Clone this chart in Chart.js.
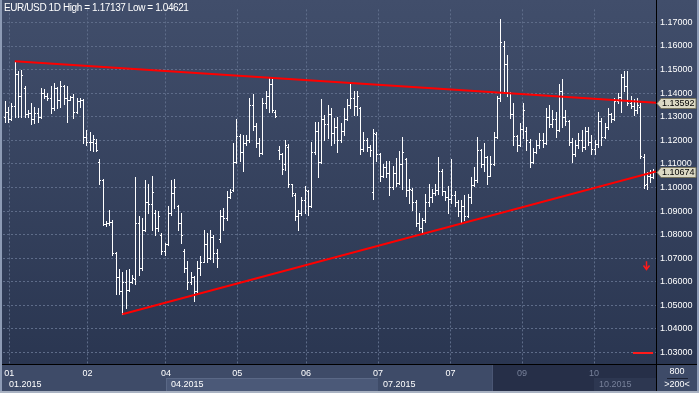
<!DOCTYPE html>
<html>
<head>
<meta charset="utf-8">
<title>EUR/USD 1D</title>
<script src="https://cdn.jsdelivr.net/npm/chart.js@4.4.0/dist/chart.umd.min.js"></script>
<style>
  html, body { margin: 0; padding: 0; background: #2f3a55; }
  #wrap { width: 699px; height: 393px; }
</style>
</head>
<body>
<div id="wrap"><canvas id="fxChart" width="699" height="393"></canvas></div>
<script>
// Daily EUR/USD bars, late Jan to late Oct 2015
const opens = [
  1.1300, 1.1320, 1.1290, 1.1345, 1.1480, 1.1390, 1.1420, 1.1310, 1.1315, 1.1290,
  1.1315, 1.1300, 1.1400, 1.1390, 1.1380, 1.1335, 1.1420, 1.1370, 1.1430, 1.1380,
  1.1372, 1.1382, 1.1320, 1.1365, 1.1372, 1.1215, 1.1195, 1.1195, 1.1190, 1.1110,
  1.1030, 1.0845, 1.0850, 1.0855, 1.0720, 1.0620, 1.0560, 1.0600, 1.0565, 1.0600,
  1.0610, 1.0850, 1.0660, 1.0820, 1.0940, 1.0930, 1.0890, 1.0830, 1.0800, 1.0730,
  1.0760, 1.0890, 1.0975, 1.0920, 1.0850, 1.0730, 1.0660, 1.0600, 1.0620, 1.0560,
  1.0660, 1.0685, 1.0760, 1.0700, 1.0790, 1.0720, 1.0780, 1.0880, 1.0870, 1.0960,
  1.0990, 1.1110, 1.1220, 1.1150, 1.1190, 1.1200, 1.1350, 1.1260, 1.1190, 1.1145,
  1.1360, 1.1390, 1.1440, 1.1320, 1.1160, 1.1140, 1.1100, 1.1170, 1.1015, 1.0970,
  1.0880, 1.0890, 1.0945, 1.0985, 1.0920, 1.1150, 1.1240, 1.1110, 1.1290, 1.1270,
  1.1310, 1.1230, 1.1255, 1.1200, 1.1240, 1.1290, 1.1350, 1.1380, 1.1345, 1.1335,
  1.1165, 1.1200, 1.1170, 1.0980, 1.1225, 1.1140, 1.1050, 1.1085, 1.1060, 1.1000,
  1.1060, 1.1020, 1.1100, 1.1120, 1.0990, 1.0990, 1.0940, 1.0850, 1.0830, 1.0860,
  1.0940, 1.0960, 1.0975, 1.0990, 1.1070, 1.0985, 1.0960, 1.0950, 1.0970, 1.0940,
  1.0900, 1.0920, 1.0880, 1.0960, 1.1010, 1.1030, 1.1160, 1.1100, 1.1130, 1.1050,
  1.1100, 1.1215, 1.1380, 1.1600, 1.1525, 1.1400, 1.1310, 1.1220, 1.1180, 1.1250,
  1.1240, 1.1195, 1.1110, 1.1150, 1.1180, 1.1200, 1.1190, 1.1300, 1.1270, 1.1290,
  1.1245, 1.1410, 1.1300, 1.1280, 1.1195, 1.1140, 1.1180, 1.1200, 1.1170, 1.1240,
  1.1195, 1.1165, 1.1185, 1.1280, 1.1215, 1.1255, 1.1310, 1.1290, 1.1365, 1.1385,
  1.1470, 1.1430, 1.1360, 1.1345, 1.1330, 1.1340, 1.1130, 1.1015, 1.1050, 1.1045
];
const highs = [
  1.1365, 1.1340, 1.1360, 1.1535, 1.1494, 1.1498, 1.1431, 1.1327, 1.1360, 1.1340,
  1.1335, 1.1423, 1.1418, 1.1402, 1.1431, 1.1443, 1.1425, 1.1452, 1.1435, 1.1431,
  1.1390, 1.1398, 1.1381, 1.1381, 1.1375, 1.1244, 1.1236, 1.1223, 1.1205, 1.1120,
  1.1037, 1.0858, 1.0905, 1.0862, 1.0725, 1.0653, 1.0642, 1.0650, 1.0655, 1.0630,
  1.1045, 1.0880, 1.0870, 1.1030, 1.1016, 1.1050, 1.0905, 1.0900, 1.0808, 1.0766,
  1.0920, 1.1033, 1.1037, 1.0925, 1.0891, 1.0738, 1.0690, 1.0642, 1.0625, 1.0690,
  1.0710, 1.0820, 1.0808, 1.0820, 1.0800, 1.0738, 1.0905, 1.0912, 1.0987, 1.0995,
  1.1190, 1.1290, 1.1225, 1.1223, 1.1223, 1.1381, 1.1398, 1.1273, 1.1211, 1.1381,
  1.1410, 1.1465, 1.1461, 1.1330, 1.1175, 1.1145, 1.1203, 1.1185, 1.1016, 1.0975,
  1.0904, 1.0960, 1.1008, 1.0990, 1.1195, 1.1278, 1.1278, 1.1377, 1.1307, 1.1348,
  1.1335, 1.1294, 1.1298, 1.1273, 1.1335, 1.1377, 1.1440, 1.1410, 1.1410, 1.1340,
  1.1236, 1.1211, 1.1182, 1.1250, 1.1235, 1.1145, 1.1099, 1.1111, 1.1111, 1.1090,
  1.1127, 1.1153, 1.1215, 1.1125, 1.1037, 1.0998, 1.0945, 1.0891, 1.0870, 1.0974,
  1.1016, 1.0995, 1.1016, 1.1130, 1.1078, 1.0987, 1.1008, 1.1120, 1.0987, 1.0945,
  1.0945, 1.0966, 1.0974, 1.1045, 1.1086, 1.1215, 1.1165, 1.1190, 1.1135, 1.1132,
  1.1237, 1.1390, 1.17137, 1.1620, 1.1563, 1.1405, 1.1360, 1.1223, 1.1273, 1.1360,
  1.1256, 1.1205, 1.1169, 1.1203, 1.1232, 1.1232, 1.1335, 1.1348, 1.1327, 1.1319,
  1.1440, 1.1461, 1.1327, 1.1285, 1.1211, 1.1203, 1.1232, 1.1244, 1.1256, 1.1256,
  1.1223, 1.1203, 1.1319, 1.1294, 1.1273, 1.1335, 1.1315, 1.1381, 1.1402, 1.1480,
  1.1494, 1.1494, 1.1390, 1.1377, 1.1381, 1.1357, 1.1140, 1.1065, 1.1075, 1.1078
];
const lows = [
  1.1278, 1.1278, 1.1285, 1.1298, 1.1298, 1.1300, 1.1300, 1.1298, 1.1270, 1.1273,
  1.1278, 1.1295, 1.1381, 1.1373, 1.1315, 1.1327, 1.1335, 1.1340, 1.1356, 1.1278,
  1.1369, 1.1295, 1.1315, 1.1340, 1.1190, 1.1182, 1.1161, 1.1153, 1.1153, 1.1016,
  1.0841, 1.0837, 1.0842, 1.0713, 1.0547, 1.0547, 1.04621, 1.0490, 1.0560, 1.0595,
  1.0590, 1.0630, 1.0650, 1.0815, 1.0891, 1.0820, 1.0800, 1.0817, 1.0716, 1.0712,
  1.0755, 1.0885, 1.0912, 1.0820, 1.0766, 1.0642, 1.0571, 1.0590, 1.0517, 1.0555,
  1.0630, 1.0683, 1.0683, 1.0695, 1.0683, 1.0663, 1.0770, 1.0820, 1.0862, 1.0955,
  1.0985, 1.1105, 1.1112, 1.1070, 1.1182, 1.1195, 1.1244, 1.1173, 1.1132, 1.1140,
  1.1335, 1.1320, 1.1320, 1.1298, 1.1120, 1.1057, 1.1075, 1.1000, 1.0962, 1.0862,
  1.0820, 1.0885, 1.0891, 1.0883, 1.0918, 1.1140, 1.1045, 1.1105, 1.1203, 1.1211,
  1.1182, 1.1190, 1.1149, 1.1195, 1.1223, 1.1285, 1.1335, 1.1307, 1.1307, 1.1140,
  1.1153, 1.1153, 1.1132, 1.0953, 1.1111, 1.1028, 1.1045, 1.1045, 1.0966, 1.0995,
  1.1008, 1.1015, 1.0995, 1.0962, 1.0933, 1.0904, 1.0837, 1.0820, 1.0808, 1.0855,
  1.0920, 1.0940, 1.0966, 1.0974, 1.0966, 1.0945, 1.0891, 1.0933, 1.0920, 1.0878,
  1.0850, 1.0862, 1.0875, 1.0933, 1.1005, 1.1025, 1.1086, 1.1070, 1.1016, 1.1049,
  1.1095, 1.1210, 1.1368, 1.1400, 1.1390, 1.1294, 1.1182, 1.1153, 1.1175, 1.1211,
  1.1161, 1.1086, 1.1105, 1.1145, 1.1169, 1.1173, 1.1185, 1.1257, 1.1257, 1.1215,
  1.1240, 1.1257, 1.1265, 1.1182, 1.1107, 1.1135, 1.1169, 1.1153, 1.1165, 1.1182,
  1.1140, 1.1140, 1.1173, 1.1182, 1.1210, 1.1250, 1.1278, 1.1286, 1.1360, 1.1320,
  1.1410, 1.1348, 1.1335, 1.1307, 1.1315, 1.1125, 1.0998, 1.0995, 1.1025, 1.1040
];
const closes = [
  1.1320, 1.1290, 1.1345, 1.1480, 1.1390, 1.1475, 1.1310, 1.1315, 1.1290, 1.1315,
  1.1300, 1.1400, 1.1390, 1.1380, 1.1335, 1.1420, 1.1370, 1.1430, 1.1380, 1.1372,
  1.1382, 1.1320, 1.1365, 1.1372, 1.1215, 1.1195, 1.1195, 1.1205, 1.1160, 1.1030,
  1.0845, 1.0850, 1.0855, 1.0720, 1.0620, 1.0560, 1.0600, 1.0565, 1.0600, 1.0615,
  1.0850, 1.0660, 1.0820, 1.0940, 1.0930, 1.0980, 1.0830, 1.0880, 1.0730, 1.0760,
  1.0890, 1.0975, 1.1000, 1.0850, 1.0800, 1.0660, 1.0600, 1.0620, 1.0560, 1.0660,
  1.0685, 1.0760, 1.0700, 1.0790, 1.0720, 1.0700, 1.0880, 1.0870, 1.0960, 1.0980,
  1.1110, 1.1220, 1.1150, 1.1190, 1.1200, 1.1350, 1.1260, 1.1190, 1.1145, 1.1360,
  1.1390, 1.1440, 1.1330, 1.1305, 1.1140, 1.1080, 1.1180, 1.1015, 1.0975, 1.0880,
  1.0890, 1.0945, 1.0990, 1.0920, 1.1150, 1.1240, 1.1110, 1.1290, 1.1270, 1.1310,
  1.1230, 1.1255, 1.1200, 1.1240, 1.1290, 1.1350, 1.1380, 1.1345, 1.1390, 1.1165,
  1.1200, 1.1170, 1.1160, 1.1230, 1.1140, 1.1050, 1.1085, 1.1060, 1.1000, 1.1060,
  1.1020, 1.1100, 1.1150, 1.0990, 1.0995, 1.0940, 1.0850, 1.0830, 1.0860, 1.0940,
  1.0960, 1.0975, 1.0990, 1.1070, 1.0985, 1.0960, 1.0950, 1.0970, 1.0940, 1.0900,
  1.0920, 1.0880, 1.0960, 1.1010, 1.1030, 1.1160, 1.1100, 1.1130, 1.1050, 1.1100,
  1.1215, 1.1380, 1.1615, 1.1525, 1.1400, 1.1310, 1.1220, 1.1180, 1.1250, 1.1330,
  1.1200, 1.1110, 1.1150, 1.1180, 1.1200, 1.1190, 1.1300, 1.1270, 1.1290, 1.1245,
  1.1410, 1.1300, 1.1280, 1.1195, 1.1140, 1.1180, 1.1200, 1.1170, 1.1240, 1.1195,
  1.1165, 1.1185, 1.1280, 1.1215, 1.1255, 1.1310, 1.1290, 1.1365, 1.1385, 1.1470,
  1.1430, 1.1360, 1.1345, 1.1330, 1.1350, 1.1135, 1.1010, 1.1050, 1.1045, 1.1067
];

// month gridlines on the time axis (in bar numbers) and their labels
const monthTickPos = [1.3, 25.3, 49.4, 71.3, 92.4, 114.5, 136.7, 158.7, 180.8];
const monthTickLabels = ['01', '02', '04', '05', '06', '07', '07', '09', '10'];

// quarter bands on the second row of the time axis
const quarterStart = [-0.6, 49.4, 114.5, 180.8];
const quarterLabels = ['01.2015', '04.2015', '07.2015', '10.2015'];

// price axis ticks
const priceTicks = [1.03, 1.04, 1.05, 1.06, 1.07, 1.08, 1.09, 1.10,
                    1.11, 1.12, 1.13, 1.14, 1.15, 1.16, 1.17];

// hand drawn trend lines (bar number, price)
const upperTrendX = [3, 199.8];
const upperTrendY = [1.1535, 1.13592];
const lowerTrendX = [36, 199.8];
const lowerTrendY = [1.04621, 1.10674];

// price tags on the right axis
const tagPrices = [1.13592, 1.10674];

// alert markers: down arrow and a short level line
const arrowX = 196.7;
const arrowTop = 1.0687;
const arrowTip = 1.0652;
const levelX = [192.7, 198.9];
const levelPrice = 1.03;

// bars from here on are shown darkened on the time axis
const navStart = 149.5;

const titleText = 'EUR/USD 1D High = 1.17137 Low = 1.04621';

const xMin = -0.6, xMax = 199.8;
const yMin = 1.02513, yMax = 1.17553;

Chart.defaults.font.family = "'Liberation Sans', Arial, sans-serif";
Chart.defaults.font.size = 9;

// backgrounds, frame and time axis bands, painted before anything else
const backdrop = {
  id: 'backdrop',
  beforeDraw(chart) {
    const {ctx, chartArea: a, scales: {x}} = chart;
    const W = chart.width, H = chart.height;
    ctx.save();
    const g = ctx.createLinearGradient(0, 0, 0, a.bottom);
    g.addColorStop(0, '#414e6b');
    g.addColorStop(1, '#2a3651');
    ctx.fillStyle = g;
    ctx.fillRect(0, 0, W, a.bottom);

    ctx.fillStyle = '#3e4b68';
    ctx.fillRect(0, a.bottom, W, H - a.bottom);

    // every second quarter gets a lighter band
    quarterStart.forEach((q, k) => {
      if (k % 2 === 0) return;
      const x0 = Math.round(x.getPixelForValue(q));
      const x1 = k + 1 < quarterStart.length ? Math.round(x.getPixelForValue(quarterStart[k + 1])) : a.right;
      ctx.fillStyle = '#4b5978';
      ctx.fillRect(x0, 378, x1 - x0, 13);
      ctx.fillStyle = '#5a6886';
      ctx.fillRect(x0, 378, x1 - x0, 1);
      ctx.fillRect(x0, 378, 1, 13);
    });

    // darkened window over the latest bars
    const n0 = Math.round(x.getPixelForValue(navStart));
    ctx.fillStyle = '#262f48';
    ctx.fillRect(n0, a.bottom, a.right - n0, 391 - a.bottom);
    ctx.fillStyle = '#4a5674';
    ctx.fillRect(n0, a.bottom, 1, 391 - a.bottom);
    const q4 = Math.round(x.getPixelForValue(quarterStart[3]));
    ctx.fillStyle = '#2d3751';
    ctx.fillRect(q4, 378, a.right - q4, 13);
    ctx.restore();
  },
  afterDraw(chart) {
    const {ctx, chartArea: a, scales: {x, y}} = chart;
    const W = chart.width, H = chart.height;
    ctx.save();

    // black axis lines
    ctx.fillStyle = '#000000';
    ctx.fillRect(a.right, 0, 1, 391);
    ctx.fillRect(2, a.bottom, W - 4, 1);

    // outer frame
    ctx.fillStyle = '#8d9bb5';
    ctx.fillRect(0, 0, 2, H);
    ctx.fillRect(W - 2, 0, 2, H);
    ctx.fillStyle = '#a9b2c2';
    ctx.fillRect(0, 391, W, 2);

    // title
    ctx.fillStyle = '#ffffff';
    ctx.font = "10px 'Liberation Sans', Arial, sans-serif";
    ctx.letterSpacing = '-0.4px';
    ctx.textAlign = 'left';
    ctx.textBaseline = 'middle';
    ctx.fillText(titleText, 4, 8);
    ctx.letterSpacing = '0px';

    // quarter labels, second row of the time axis
    ctx.font = "9px 'Liberation Sans', Arial, sans-serif";
    quarterStart.forEach((q, k) => {
      const px = Math.max(Math.round(x.getPixelForValue(q)), a.left + 1);
      ctx.fillStyle = q >= navStart ? '#77819a' : '#ffffff';
      ctx.fillText(quarterLabels[k], px + 5, 385);
    });

    // corner box
    ctx.fillStyle = '#ffffff';
    ctx.textAlign = 'center';
    ctx.fillText('800', 677, 372);
    ctx.fillText('>200<', 677, 385);
    ctx.fillStyle = '#1b2133';
    ctx.fillRect(667, 378, 21, 1);

    // price tags on the right axis
    ctx.textAlign = 'left';
    tagPrices.forEach(p => {
      const py = Math.round(y.getPixelForValue(p)) + 0.5;
      ctx.beginPath();
      ctx.moveTo(a.right + 1, py);
      ctx.lineTo(a.right + 5, py - 5);
      ctx.lineTo(W - 3, py - 5);
      ctx.lineTo(W - 3, py + 5);
      ctx.lineTo(a.right + 5, py + 5);
      ctx.closePath();
      ctx.fillStyle = '#dcd9c4';
      ctx.fill();
      ctx.strokeStyle = '#77745f';
      ctx.lineWidth = 1;
      ctx.stroke();
      ctx.fillStyle = '#000000';
      ctx.fillText(p.toFixed(5), a.right + 6, py + 0.5);
    });

    // alert markers
    ctx.strokeStyle = '#ff1a1a';
    ctx.lineWidth = 1.5;
    const ax = Math.round(x.getPixelForValue(arrowX)) + 0.5;
    const at = y.getPixelForValue(arrowTop);
    const ab = y.getPixelForValue(arrowTip);
    ctx.beginPath();
    ctx.moveTo(ax, at);
    ctx.lineTo(ax, ab);
    ctx.moveTo(ax - 3, ab - 4);
    ctx.lineTo(ax, ab);
    ctx.lineTo(ax + 3, ab - 4);
    ctx.stroke();
    ctx.fillStyle = '#ff1a1a';
    const ly = Math.round(y.getPixelForValue(levelPrice));
    const lx0 = Math.round(x.getPixelForValue(levelX[0]));
    const lx1 = Math.round(x.getPixelForValue(levelX[1]));
    ctx.fillRect(lx0, ly - 1, lx1 - lx0, 2);
    ctx.restore();
  }
};

// open-high-low-close bars, drawn under the trend lines
const ohlcBars = {
  id: 'ohlcBars',
  beforeDatasetsDraw(chart) {
    const {ctx, chartArea: a, scales: {x, y}} = chart;
    ctx.save();
    ctx.beginPath();
    ctx.rect(a.left, a.top, a.right - a.left, a.bottom - a.top);
    ctx.clip();
    ctx.fillStyle = '#ffffff';
    for (let i = 0; i < highs.length; i++) {
      const px = Math.round(x.getPixelForValue(i));
      const top = Math.round(y.getPixelForValue(highs[i]));
      const bot = Math.round(y.getPixelForValue(lows[i]));
      ctx.fillRect(px, top, 1, bot - top + 1);
      ctx.fillRect(px - 1, Math.round(y.getPixelForValue(opens[i])), 1, 1);
      ctx.fillRect(px + 1, Math.round(y.getPixelForValue(closes[i])), 1, 1);
    }
    ctx.restore();
  }
};

const gridColor = '#5e6c89';

new Chart(document.getElementById('fxChart'), {
  type: 'line',
  data: {
    datasets: [
      {
        label: 'upper trend',
        data: upperTrendX.map((v, k) => ({x: v, y: upperTrendY[k]})),
        borderColor: '#ff0000',
        borderWidth: 2,
        pointRadius: 0
      },
      {
        label: 'lower trend',
        data: lowerTrendX.map((v, k) => ({x: v, y: lowerTrendY[k]})),
        borderColor: '#ff0000',
        borderWidth: 2,
        pointRadius: 0
      }
    ]
  },
  options: {
    responsive: false,
    animation: false,
    devicePixelRatio: 1,
    layout: { padding: { left: 3, top: 2, right: 0, bottom: 0 } },
    plugins: {
      legend: { display: false },
      tooltip: { enabled: false }
    },
    scales: {
      x: {
        type: 'linear',
        min: xMin,
        max: xMax,
        afterBuildTicks: s => { s.ticks = monthTickPos.map(v => ({ value: v })); },
        afterFit: s => { s.height = 29; },
        grid: { color: gridColor, drawTicks: false },
        border: { display: false, dash: [2, 2] },
        ticks: {
          autoSkip: false,
          maxRotation: 0,
          padding: 4,
          color: c => (c.tick && c.tick.value >= navStart ? '#77819a' : '#ffffff'),
          callback: (v, k) => monthTickLabels[k]
        }
      },
      y: {
        type: 'linear',
        position: 'right',
        min: yMin,
        max: yMax,
        afterBuildTicks: s => { s.ticks = priceTicks.map(v => ({ value: v })); },
        afterFit: s => { s.width = 43; },
        grid: { color: gridColor, drawTicks: false },
        border: { display: false, dash: [2, 2] },
        ticks: {
          autoSkip: false,
          padding: 4,
          color: '#ffffff',
          callback: v => v.toFixed(5)
        }
      }
    }
  },
  plugins: [backdrop, ohlcBars]
});
</script>
</body>
</html>
